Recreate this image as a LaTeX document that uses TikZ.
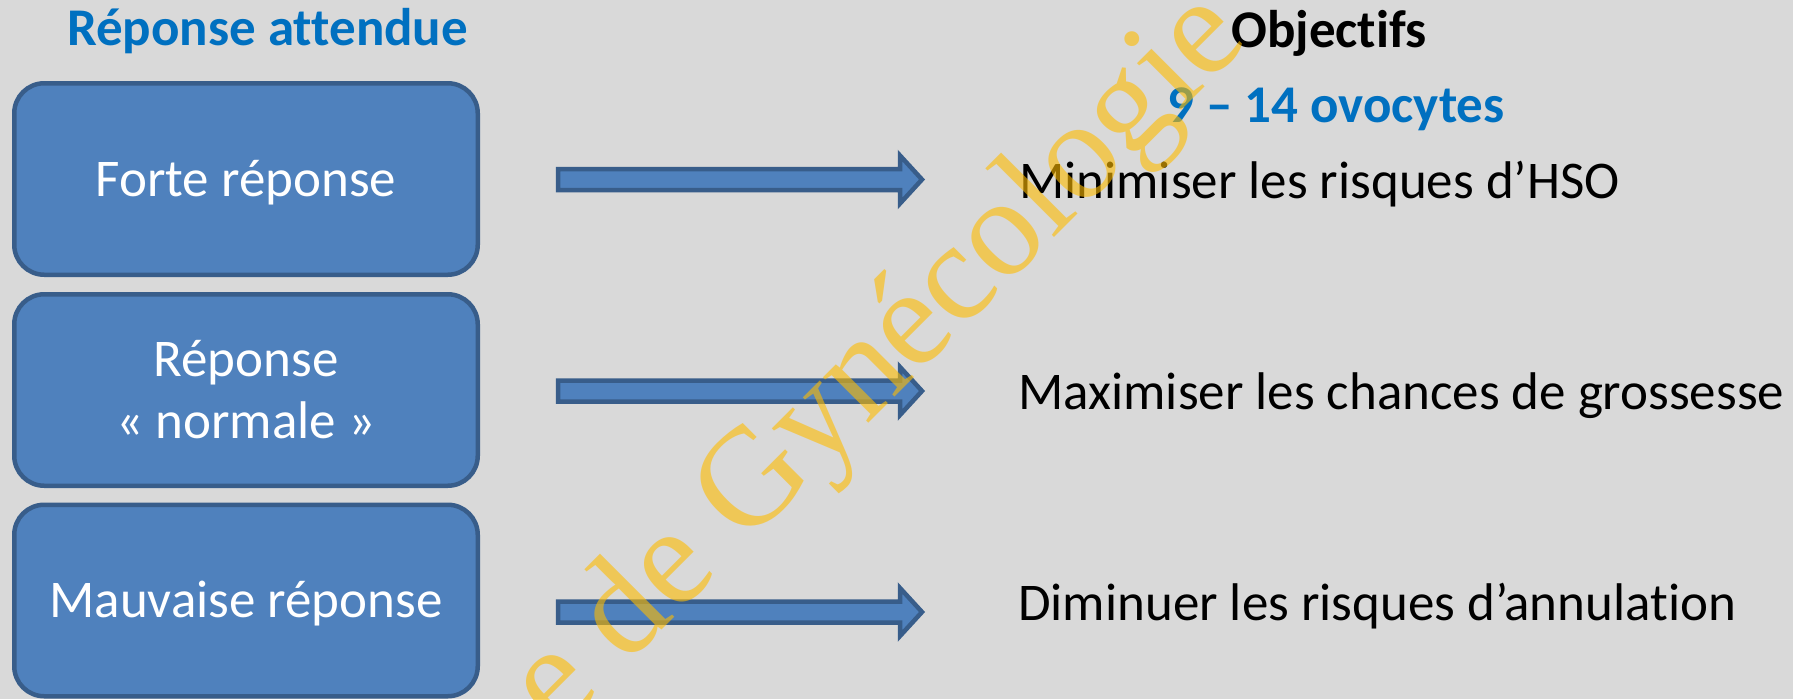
\documentclass[tikz,border=0pt]{standalone}
\usepackage{fontspec}
\setmainfont{Carlito}[Ligatures={NoCommon}]
\newfontfamily\markfont{Liberation Serif}
\usetikzlibrary{calc}

\definecolor{slidebg}{RGB}{217,217,217}
\definecolor{boxfill}{RGB}{79,129,189}
\definecolor{boxline}{RGB}{56,93,138}
\definecolor{headblue}{RGB}{0,112,192}
\definecolor{markgold}{RGB}{255,188,0}

\tikzset{
  respbox/.style={draw=boxline, fill=boxfill, line width=4.5pt, rounded corners=30pt,
    minimum width=463.5pt, minimum height=191.5pt, inner sep=0pt, outer sep=0pt,
    text=white, font=\fontsize{53}{62}\selectfont, align=center,
    text height=34pt, text depth=0pt},
  tworows/.style={text height=96pt, text depth=0pt},
  label/.style={anchor=base west, inner sep=0pt, font=\fontsize{53}{62}\selectfont},
  boldlabel/.style={label, font=\fontsize{53}{62}\selectfont\bfseries},
  heading/.style={boldlabel, text=headblue},
  blockarrow/.style={draw=boxline, fill=boxfill, line width=4.5pt, line join=miter},
  markstyle/.style={anchor=base west, rotate=45, inner sep=0pt, text=markgold,
    opacity=0.6, font=\markfont\fontsize{140}{140}\selectfont},
}

% block arrow from tail point #1 to tip point #2
\newcommand\fatarrow[2]{%
  \draw[blockarrow] ($(#1)+(0,-10.5)$) -- ($(#2)+(-22,-10.5)$) -- ($(#2)+(-22,-24)$)
    -- (#2) -- ($(#2)+(-22,24)$) -- ($(#2)+(-22,10.5)$) -- ($(#1)+(0,10.5)$) -- cycle;}

\begin{document}
\begin{tikzpicture}[x=1pt,y=-1pt]
\useasboundingbox (0,0) rectangle (1793,699);
\fill[slidebg] (0,0) rectangle (1793,699);

% left column: expected response
\node[heading] (title) at (67,45) {Réponse attendue};
\node[respbox] (b1) at (246,179) {Forte réponse};
\node[respbox, tworows] (b2) at (246,390) {Réponse\\«~normale~»};
\node[respbox] (b3) at (246,600.5) {Mauvaise réponse};

% right column: objectives
\node[boldlabel] (obj) at (1231,47) {Objectifs};
\node[heading] (range) at (1167,122) {9 – 14 ovocytes};
\node[label] (t1) at (1019,198) {Minimiser les risques d’HSO};
\node[label] (t2) at (1018,409) {Maximiser les chances de grossesse};
\node[label] (t3) at (1018,620) {Diminuer les risques d’annulation};

% arrows between the columns
\coordinate (a1s) at (558,179.5);
\coordinate (a1e) at (922,179.5);
\coordinate (a2s) at (558,391);
\coordinate (a2e) at (922,391);
\coordinate (a3s) at (558,612);
\coordinate (a3e) at (922,612);
\fatarrow{a1s}{a1e}
\fatarrow{a2s}{a2e}
\fatarrow{a3s}{a3e}

% watermark
\begin{scope}
  \clip (0,0) rectangle (1793,699);
  \node[markstyle] (mark) at (558,734) {e de Gynécologie};
\end{scope}
\end{tikzpicture}
\end{document}
